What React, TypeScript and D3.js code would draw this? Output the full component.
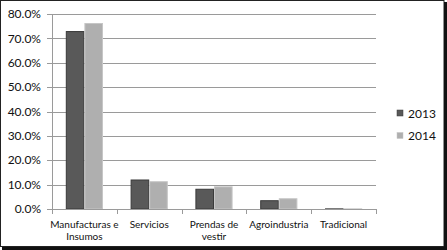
import React from "react";
import * as d3 from "d3";

const categories: string[][] = [
  ["Manufacturas e", "Insumos"],
  ["Servicios"],
  ["Prendas de", "vestir"],
  ["Agroindustria"],
  ["Tradicional"],
];
const seriesNames = ["2013", "2014"];
const values2013 = [0.728, 0.119, 0.081, 0.034, 0.0005];
const values2014 = [0.761, 0.112, 0.091, 0.042, 0.0005];
const yTicks = [0, 0.1, 0.2, 0.3, 0.4, 0.5, 0.6, 0.7, 0.8];

const W = 447;
const H = 250;
const left = 52;
const right = 376;
const top = 14;
const bottom = 209;
const font = "Lato, 'Liberation Sans', sans-serif";
const fills = ["#595959", "#afafaf"];
const strokes = ["#3a3a3a", "#c6c6c6"];

export default function App() {
  const x = d3
    .scaleBand<number>()
    .domain(categories.map((_, i) => i))
    .range([left, right])
    .paddingInner(0)
    .paddingOuter(0);
  const y = d3.scaleLinear().domain([0, 0.8]).range([bottom, top]);
  const groupW = x.bandwidth() * 0.574;
  const x1 = d3
    .scaleBand<number>()
    .domain([0, 1])
    .range([0, groupW]);
  const fmt = d3.format(".1%");
  const series = [values2013, values2014];

  return (
    <svg
      width={W}
      height={H}
      style={{ position: "absolute", left: 0, top: 0 }}
    >
      <rect x={0} y={0} width={W} height={H} fill="#fff" />
      <rect x={0.5} y={0.5} width={443.5} height={246} fill="#fff" stroke="#222" strokeWidth={1} />
      <line x1={445.5} y1={2} x2={445.5} y2={249} stroke="#111" strokeWidth={3} />
      <line x1={2} y1={248.5} x2={447} y2={248.5} stroke="#111" strokeWidth={3} />
      {yTicks.map((t) => (
        <g key={t}>
          {t > 0 && (
            <line x1={left} x2={right} y1={Math.round(y(t)) + 0.5} y2={Math.round(y(t)) + 0.5} stroke="#9a9a9a" />
          )}
          <line x1={left - 5} x2={left} y1={Math.round(y(t)) + 0.5} y2={Math.round(y(t)) + 0.5} stroke="#9a9a9a" />
          <text
            x={41}
            y={y(t)}
            dy="0.35em"
            textAnchor="end"
            fontFamily={font}
            fontSize={12}
            fill="#111"
          >
            {fmt(t)}
          </text>
        </g>
      ))}
      {categories.map((c, i) => {
        const x0 = x(i)! + (x.bandwidth() - groupW) / 2;
        return (
          <g key={i}>
            {series.map((s, k) => {
              const yv = y(s[i]);
              return (
                <rect
                  key={k}
                  x={x0 + x1(k)! + 0.5}
                  y={yv}
                  width={x1.bandwidth() - 1}
                  height={Math.max(0, bottom - yv)}
                  fill={fills[k]}
                  stroke={strokes[k]}
                  strokeWidth={1}
                />
              );
            })}
            {c.map((line, j) => (
              <text
                key={j}
                x={x(i)! + x.bandwidth() / 2}
                y={224 + j * 12}
                dy="0.35em"
                textAnchor="middle"
                fontFamily={font}
                fontSize={10}
                fill="#111"
              >
                {line}
              </text>
            ))}
          </g>
        );
      })}
      {d3.range(categories.length + 1).map((i) => {
        const xx = Math.round(left + i * x.step()) + 0.5;
        return <line key={i} x1={xx} x2={xx} y1={bottom} y2={bottom + 5} stroke="#9a9a9a" />;
      })}
      <line x1={left + 0.5} x2={left + 0.5} y1={top} y2={bottom} stroke="#9a9a9a" />
      <line x1={left} x2={right} y1={bottom + 0.5} y2={bottom + 0.5} stroke="#9a9a9a" />
      {seriesNames.map((n, k) => (
        <g key={n}>
          <rect x={397} y={110 + k * 22.5} width={6} height={6} fill={fills[k]} stroke={strokes[k]} strokeWidth={0.5} />
          <text x={408} y={113.5 + k * 22.5} dy="0.35em" fontFamily={font} fontSize={12} fill="#111">
            {n}
          </text>
        </g>
      ))}
    </svg>
  );
}
